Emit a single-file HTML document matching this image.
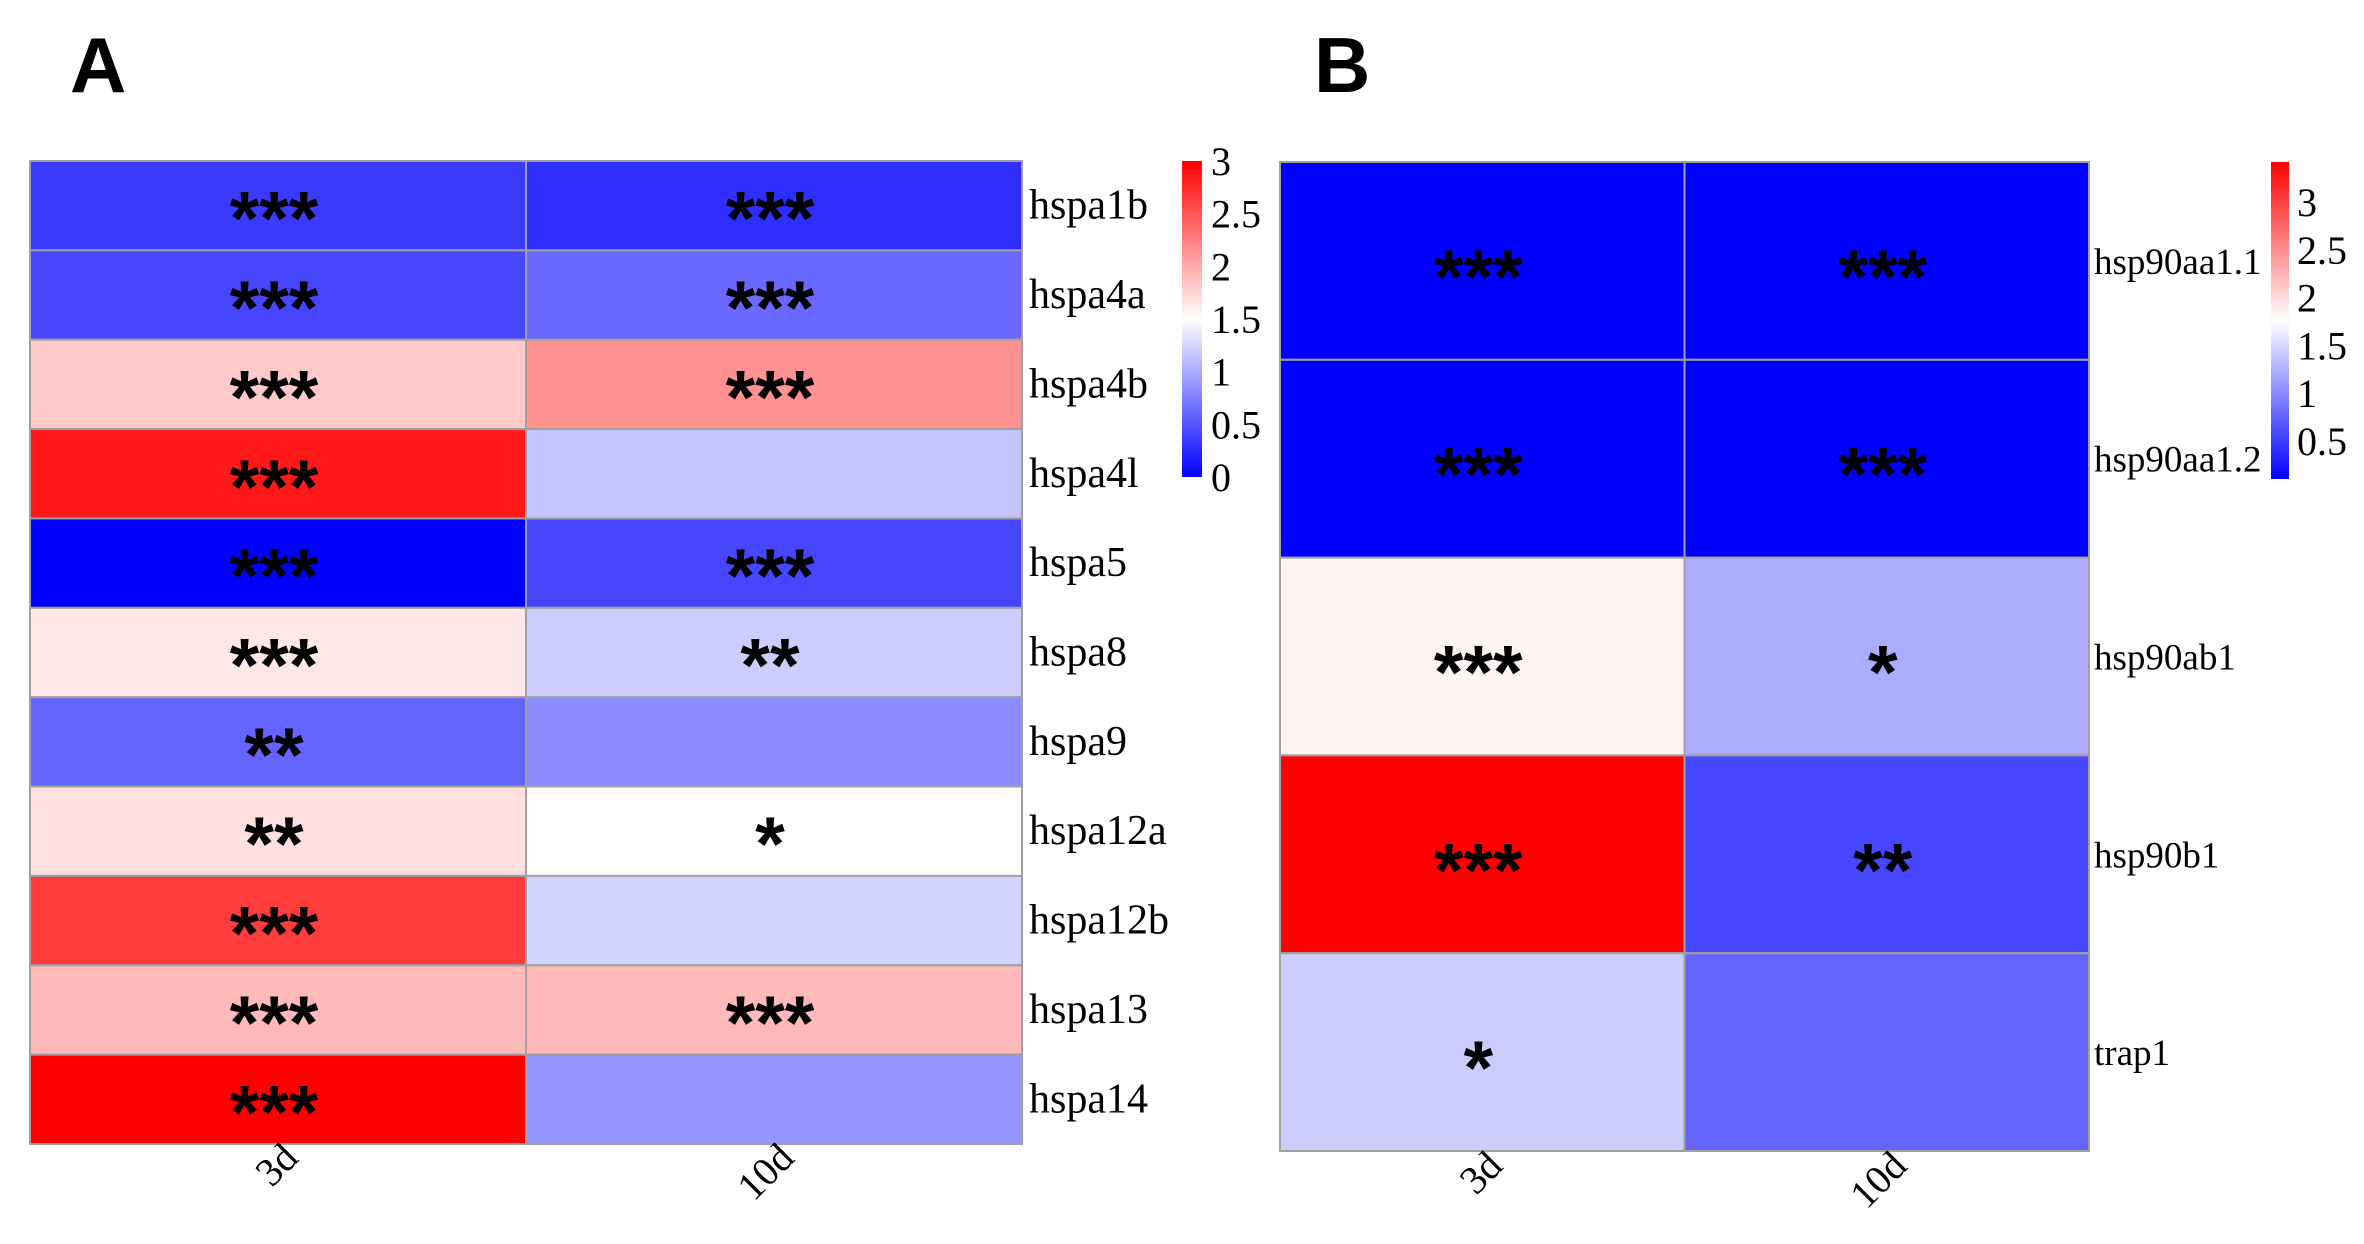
<!DOCTYPE html>
<html><head><meta charset="utf-8"><style>
html,body{margin:0;padding:0;background:#fff;width:2364px;height:1244px;overflow:hidden}
svg{display:block}
.lbl{font-family:"Liberation Serif",serif;font-size:40px;fill:#000}
.star{font-family:"Liberation Sans",sans-serif;font-weight:bold;font-size:76px;fill:#000}
.pan{font-family:"Liberation Sans",sans-serif;font-weight:bold;font-size:78px;fill:#000}
</style></head><body>
<svg id="fig" width="2364" height="1244" xmlns="http://www.w3.org/2000/svg">
<defs>
<linearGradient id="gA" x1="0" y1="1" x2="0" y2="0"><stop offset="0" stop-color="#0000ff"/><stop offset="0.5" stop-color="#ffffff"/><stop offset="1" stop-color="#ff0000"/></linearGradient>
<linearGradient id="gB" x1="0" y1="1" x2="0" y2="0"><stop offset="0" stop-color="#0000ff"/><stop offset="0.5" stop-color="#ffffff"/><stop offset="1" stop-color="#ff0000"/></linearGradient>
</defs>
<text class="pan" x="70" y="92">A</text>
<text class="pan" x="1314" y="92">B</text>
<g id="panelA"></g>
<g id="panelB"></g>
</svg>
<script>
const colsA = ["3d","10d"];
const genesA = ["hspa1b","hspa4a","hspa4b","hspa4l","hspa5","hspa8","hspa9","hspa12a","hspa12b","hspa13","hspa14"];
const vals3dA = [0.35,0.41,1.82,2.85,0.0,1.64,0.59,1.69,2.65,1.91,3.0];
const vals10dA = [0.27,0.62,2.15,1.15,0.41,1.2,0.82,1.52,1.24,1.91,0.88];
const stars3dA = ["***","***","***","***","***","***","**","**","***","***","***"];
const stars10dA = ["***","***","***","","***","**","","*","","***",""];
const ticksA = [0,0.5,1,1.5,2,2.5,3];

const colsB = ["3d","10d"];
const genesB = ["hsp90aa1.1","hsp90aa1.2","hsp90ab1","hsp90b1","trap1"];
const vals3dB = [0.1,0.1,1.83,3.42,1.43];
const vals10dB = [0.1,0.1,1.21,0.56,0.75];
const stars3dB = ["***","***","***","***","*"];
const stars10dB = ["***","***","*","**",""];
const ticksB = [0.5,1,1.5,2,2.5,3];

const NS="http://www.w3.org/2000/svg";
function mk(tag,attrs,parent){const e=document.createElementNS(NS,tag);for(const k in attrs)e.setAttribute(k,attrs[k]);parent.appendChild(e);return e;}
function color(v,mn,mx){const mid=(mn+mx)/2;let r,g,b;
 if(v<=mid){const t=Math.max(0,(v-mn)/(mid-mn));r=g=Math.round(255*t);b=255;}
 else{const t=Math.min(1,(mx-v)/(mx-mid));r=255;g=b=Math.round(255*t);}
 return `rgb(${r},${g},${b})`;}

function draw(g,cfg){
 const {cols,genes,series,stars,left,right,top,bottom,mn,mx,labelX,labelSize,starOff,xl,cb,ticks,grad}=cfg;
 const cw=(right-left)/cols.length, rh=(bottom-top)/genes.length;
 const xS=i=>left+i*cw, yS=j=>top+j*rh;
 for(let i=0;i<cols.length;i++){
  for(let j=0;j<genes.length;j++){
   const r=mk('rect',{x:xS(i),y:yS(j),width:cw,height:rh,fill:color(series[i][j],mn,mx),stroke:'#a0a0a0','stroke-width':2},g);
   
   
   if(stars[i][j]){
    const t=mk('text',{class:'star',x:xS(i)+cw/2-4,y:yS(j)+rh/2+starOff,'text-anchor':'middle'},g);
    t.textContent=stars[i][j];
    
    
   }
  }
 }
 for(let j=0;j<genes.length;j++){
  const t=mk('text',{class:'lbl',x:labelX,y:yS(j)+rh/2+13,style:'font-size:'+labelSize+'px'},g);
  t.textContent=genes[j];
  
  
 }
 for(let i=0;i<cols.length;i++){
  const x=xS(i)+cw/2+xl.dx, y=xl.y;
  const t=mk('text',{class:'lbl',x:x,y:y,'text-anchor':'end',transform:`rotate(-45 ${x} ${y})`},g);
  t.textContent=cols[i];
  
  
 }
 const bar=mk('rect',{x:cb.x,y:cb.top,width:cb.w,height:cb.bottom-cb.top,fill:'url(#'+grad+')'},g);
 
 
 const vy=v=>cb.bottom-(v-mn)/(mx-mn)*(cb.bottom-cb.top);
 ticks.forEach(v=>{
  const t=mk('text',{class:'lbl',x:cb.lx,y:vy(v)+14},g);
  t.textContent=String(v);
  
  
 });
}
draw(document.getElementById('panelA'),{cols:colsA,genes:genesA,series:[vals3dA,vals10dA],stars:[stars3dA,stars10dA],
 left:30,right:1022,top:161,bottom:1144,mn:0,mx:3,labelX:1029,labelSize:42,starOff:39,xl:{dx:22,y:1160},
 cb:{x:1182,w:20,top:161,bottom:477,lx:1211},ticks:ticksA,grad:'gA'});
draw(document.getElementById('panelB'),{cols:colsB,genes:genesB,series:[vals3dB,vals10dB],stars:[stars3dB,stars10dB],
 left:1280,right:2089,top:162,bottom:1151,mn:0.1,mx:3.42,labelX:2094,labelSize:37,starOff:42,xl:{dx:22,y:1168},
 cb:{x:2271,w:18,top:162,bottom:479,lx:2297},ticks:ticksB,grad:'gB'});
</script>
</body></html>
